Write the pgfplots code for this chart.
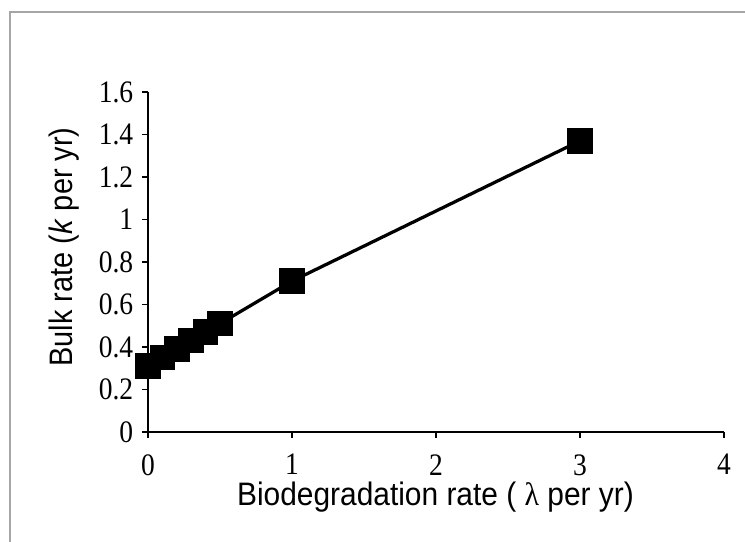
\documentclass[border=0pt]{standalone}
\usepackage{fontspec}
\setmainfont{Liberation Serif}
\setsansfont{Liberation Sans}
\usepackage{graphicx}
\usepackage{pgfplots}
\pgfplotsset{compat=1.18}

\begin{document}
\begin{tikzpicture}
\begin{axis}[
    at={(0,0)}, anchor=south west,
    scale only axis,
    width=230.4pt, height=136pt,
    xmin=0, xmax=4, ymin=0, ymax=1.6,
    axis lines=left,
    axis line style={-, line width=0.6pt},
    xtick={0,1,2,3,4},
    ytick={0,0.2,0.4,0.6,0.8,1,1.2,1.4,1.6},
    xticklabel={\scalebox{0.88}[1]{\pgfmathprintnumber{\tick}}},
    yticklabel={\scalebox{0.88}[1]{\pgfmathprintnumber{\tick}}},
    tick align=outside,
    major tick length=2.4pt,
    tick style={black, line width=0.5pt},
    /pgf/number format/assume math mode=true,
    tick label style={font=\rmfamily\fontsize{12.5}{14}\selectfont},
    xticklabel style={yshift=-3pt},
    clip=false,
]
\addplot[black, line width=1.3pt, mark=square*, mark size=4.5pt] coordinates {
    (0,0.31)(0.1,0.35)(0.2,0.39)(0.3,0.43)(0.4,0.47)(0.5,0.51)(1,0.71)(3,1.37)
};
\end{axis}
\node[rotate=90, font=\sffamily\fontsize{13}{15}\selectfont] at (-33.6pt,74pt) {\scalebox{0.89}[1]{Bulk rate (\textit{k} per yr)}};
\node[font=\sffamily\fontsize{13}{15}\selectfont] at (115pt,-26pt) {\scalebox{0.92}[1]{Biodegradation rate ( {\rmfamily λ} per yr)}};
\draw[gray!70, line width=0.5pt] (-55.2pt,-50pt) -- (-55.2pt,168pt) -- (245pt,168pt);
\pgfresetboundingbox
\path[use as bounding box] (-59.2pt,-44pt) rectangle (238.8pt,172.8pt);
\end{tikzpicture}
\end{document}
